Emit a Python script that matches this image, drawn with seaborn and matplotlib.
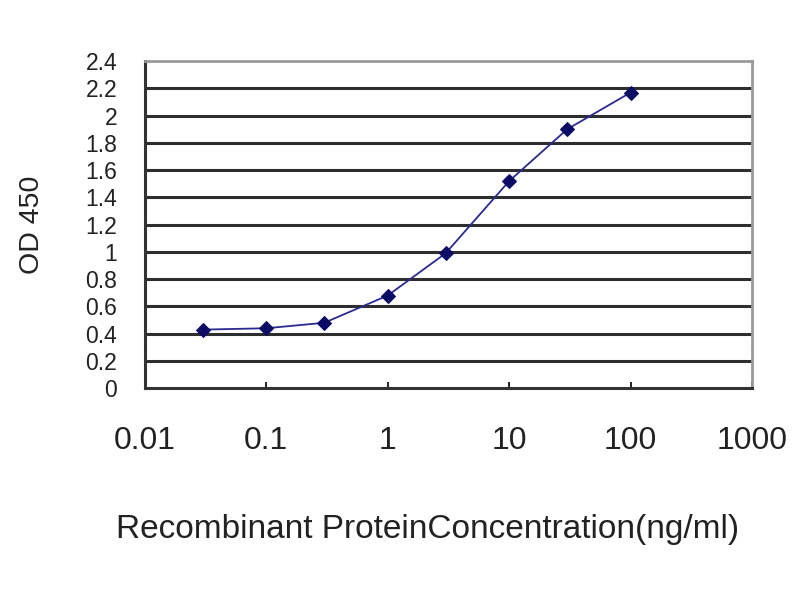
import matplotlib
matplotlib.use("Agg")
import matplotlib.pyplot as plt
import seaborn as sns
import pandas as pd
from matplotlib.ticker import FixedLocator, FixedFormatter

# data
concentration = [0.03, 0.1, 0.3, 1, 3, 10, 30, 100]
od450 = [0.43, 0.44, 0.48, 0.68, 0.99, 1.52, 1.90, 2.17]
x_ticks = [0.01, 0.1, 1, 10, 100, 1000]
x_tick_labels = ["0.01", "0.1", "1", "10", "100", "1000"]
y_ticks = [0, 0.2, 0.4, 0.6, 0.8, 1.0, 1.2, 1.4, 1.6, 1.8, 2.0, 2.2, 2.4]
y_tick_labels = ["0", "0.2", "0.4", "0.6", "0.8", "1", "1.2", "1.4", "1.6", "1.8", "2", "2.2", "2.4"]

df = pd.DataFrame({"conc": concentration, "od": od450})

sns.set_style("white")
plt.rcParams["font.family"] = ["Liberation Sans", "DejaVu Sans"]

fig = plt.figure(figsize=(8, 6), dpi=100)
ax = fig.add_axes([0.181, 0.353, 0.759, 0.545])

# horizontal grid lines
for v in y_ticks[1:-1]:
    ax.axhline(v, color="#2e2e2e", lw=2.2, zorder=1)

sns.lineplot(data=df, x="conc", y="od", ax=ax, color="#2a2a90", lw=1.3,
             marker="D", markersize=7, markeredgecolor="#0c0c66",
             markerfacecolor="#0c0c66", zorder=3)

ax.set_xscale("log")
ax.set_xlim(0.01, 1000)
ax.set_ylim(0, 2.4)
ax.xaxis.set_major_locator(FixedLocator(x_ticks))
ax.xaxis.set_major_formatter(FixedFormatter(x_tick_labels))
ax.xaxis.set_minor_locator(FixedLocator([]))
ax.yaxis.set_major_locator(FixedLocator(y_ticks))
ax.yaxis.set_major_formatter(FixedFormatter(y_tick_labels))

ax.tick_params(axis="x", direction="in", length=4, width=1.4, color="#222222",
               labelsize=23, pad=27, bottom=True, labelcolor="#222222")
ax.tick_params(axis="y", length=0, labelsize=16.5, pad=20, labelcolor="#222222")

for side in ["left", "bottom"]:
    ax.spines[side].set_color("#333333")
    ax.spines[side].set_linewidth(2.2)
for side in ["top", "right"]:
    ax.spines[side].set_color("#9a9a9a")
    ax.spines[side].set_linewidth(2.0)

ax.set_xlabel("Recombinant ProteinConcentration(ng/ml)", fontsize=24,
              labelpad=42, color="#222222")
ax.xaxis.label.set_x(0.465)
ax.set_ylabel("OD 450", fontsize=20.5, labelpad=29, color="#222222")

fig.savefig("out.png", dpi=100)
